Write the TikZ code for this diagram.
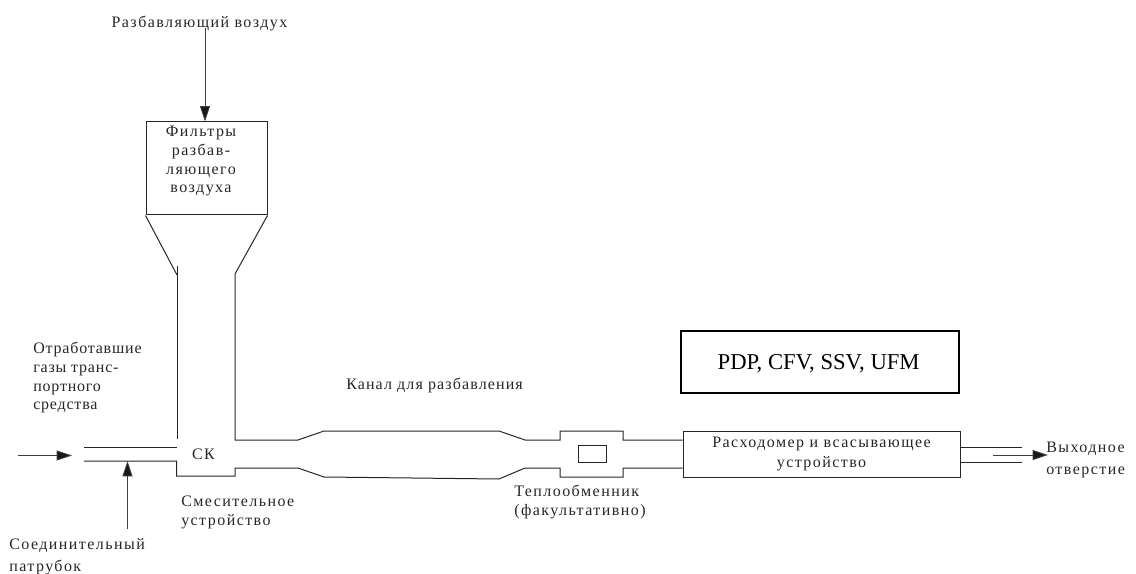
\documentclass[tikz,border=0pt]{standalone}
\usepackage{fontspec}
\setmainfont{Liberation Serif}
\newfontfamily\lbl[LetterSpace=9]{Liberation Serif}
\newfontfamily\lblnarrow[LetterSpace=5]{Liberation Serif}
\newfontfamily\lblmid[LetterSpace=7]{Liberation Serif}
\usetikzlibrary{arrows.meta}
\tikzset{
  x=0.75pt,y=-0.75pt,
  pipe/.style={draw=black!85,line width=0.75pt,line join=miter},
  flow/.style={draw=black!75,line width=0.6pt,-{Triangle[length=11.5pt,width=7.5pt,fill=black!90]}},
  lab/.style={font=\lbl\fontsize{12pt}{14pt}\selectfont,text=black!85,inner sep=0pt,align=left},
  labc/.style={lab,align=center},
  boxed/.style={draw=black!85,line width=0.75pt,fill=white,inner sep=0pt},
}
\begin{document}
\begin{tikzpicture}
\useasboundingbox (0,0) rectangle (1136,574);
% nodes
\node[boxed,minimum width=121*0.75pt,minimum height=93*0.75pt] (filt) at (206.5,168.5) {};
\node[labc,anchor=north] (filtt) at (201,126) {Фильтры\\разбав-\\ляющего\\воздуха};
\node[boxed,minimum width=277*0.75pt,minimum height=46*0.75pt] (meter) at (821.5,454) {};
\node[labc,font=\lbl\fontsize{12pt}{15pt}\selectfont] (metert) at (821.5,454) {Расходомер и всасывающее\\устройство};
\node[boxed,minimum width=27.5*0.75pt,minimum height=17*0.75pt] (hx) at (592.5,454) {};
\node[draw=black,line width=1.3pt,minimum width=278*0.75pt,minimum height=62.5*0.75pt,inner sep=0pt,font=\fontsize{17pt}{19pt}\selectfont,text depth=0pt] (pdp) at (820,362) {\hspace*{-2pt}PDP, CFV, SSV, UFM};
\node[lab,anchor=north] (air) at (199.5,16) {Разбавляющий воздух};
\node[lab,anchor=north west,font=\lblnarrow\fontsize{12pt}{14pt}\selectfont] (exh) at (33,342) {Отработавшие\\газы транс-\\портного\\средства};
\node[lab,anchor=west,font=\lblmid\fontsize{12pt}{14pt}\selectfont] (chan) at (346,385) {Канал для разбавления};
\node[lab] (ck) at (203.5,454) {СК};
\node[lab,anchor=north west] (mix) at (181,496) {Смесительное\\устройство};
\node[lab,anchor=north west,font=\lbl\fontsize{12pt}{16.5pt}\selectfont] (conn) at (9,538) {Соединительный\\патрубок};
\node[lab,anchor=north west] (heat) at (514,485) {Теплообменник\\(факультативно)};
\node[lab,anchor=north west,font=\lbl\fontsize{12pt}{16.5pt}\selectfont] (out) at (1046,442) {Выходное\\отверстие};
\coordinate (a1) at (18,455.5);
\coordinate (a2) at (72,455.5);
\coordinate (b1) at (127.5,529);
\coordinate (b2) at (127.5,461);
\coordinate (c1) at (993,455);
\coordinate (c2) at (1048,455);
\coordinate (d1) at (205,28);
% duct
\draw[pipe] (filt.south west) -- (177,275);
\draw[pipe] (filt.south east) -- (235,274) -- (235,440) -- (298,440) -- (324,431) -- (499,431) -- (525,440) -- (560,440) -- (560,431) -- (623,431) -- (623,440) -- (meter.west |- 0,440);
\draw[pipe] (177.5,266) -- (177.5,439);
\draw[pipe] (84,447) -- (176.5,447);
\draw[pipe] (84,461) -- (176.5,461) -- (176.5,476) -- (235,476) -- (235,468) -- (298,468) -- (324,477) -- (499,479) -- (525,468) -- (560,468) -- (560,477) -- (623,477) -- (623,468) -- (meter.west |- 0,468);
\draw[pipe] (meter.east |- 0,447) -- (1022,447);
\draw[pipe] (meter.east |- 0,462) -- (1022,462);
% arrows
\draw[flow] (a1) -- (a2);
\draw[flow] (b1) -- (b2);
\draw[flow] (c1) -- (c2);
\draw[flow] (d1) -- (d1 |- filt.north);
\end{tikzpicture}
\end{document}
